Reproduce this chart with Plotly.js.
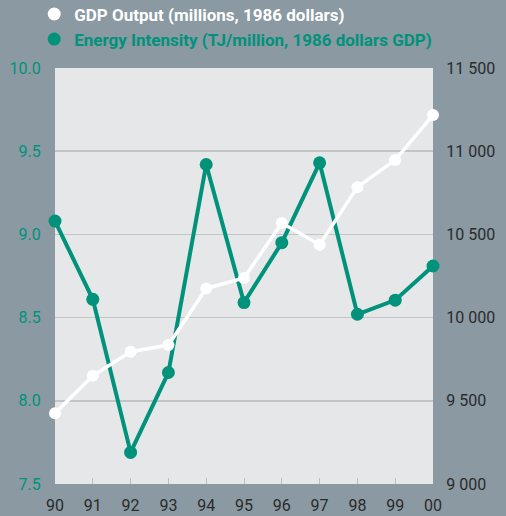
<!DOCTYPE html>
<html>
<head>
<meta charset="utf-8">
<script src="https://cdn.plot.ly/plotly-3.0.1.min.js"></script>
<style>html,body{margin:0;padding:0;background:#8a99a2;}#chart{width:506px;height:516px;}</style>
</head>
<body>
<div id="chart"></div>
<script>
var years = ['90','91','92','93','94','95','96','97','98','99','00'];
var gdpOutput = [9425, 9650, 9795, 9835, 10175, 10238, 10568, 10438, 10784, 10947, 11217];
var energyIntensity = [9.08, 8.61, 7.69, 8.17, 9.42, 8.59, 8.95, 9.43, 8.52, 8.605, 8.81];
var gdpName = 'GDP Output (millions, 1986 dollars)';
var energyName = 'Energy Intensity (TJ/million, 1986 dollars GDP)';

var GREEN = '#00927b';
var WHITE = '#ffffff';
var FONT = 'Roboto, "Liberation Sans", sans-serif';

var traces = [
  {x: years, y: energyIntensity, type: 'scatter', mode: 'lines+markers', yaxis: 'y',
   line: {color: GREEN, width: 4}, marker: {color: GREEN, size: 13}, showlegend: false, cliponaxis: false},
  {x: years, y: gdpOutput, type: 'scatter', mode: 'lines+markers', yaxis: 'y2',
   line: {color: WHITE, width: 3.5}, marker: {color: WHITE, size: 12}, showlegend: false, cliponaxis: false},
  {x: [years[0]], y: [null], type: 'scatter', mode: 'markers', marker: {color: WHITE, size: 13},
   name: '<b><span style="color:#ffffff">' + gdpName + '</span></b>'},
  {x: [years[0]], y: [null], type: 'scatter', mode: 'markers', marker: {color: GREEN, size: 13},
   name: '<b><span style="color:' + GREEN + '">' + energyName + '</span></b>'}
];

var layout = {
  width: 506, height: 516,
  paper_bgcolor: '#8a99a2',
  plot_bgcolor: '#e6e7e8',
  margin: {l: 55, r: 73, t: 68, b: 32, pad: 0, autoexpand: false},
  separators: '. ',
  font: {family: FONT, size: 15, color: '#2b2b2b'},
  showlegend: true,
  legend: {
    x: -0.055, y: 1.172, xanchor: 'left', yanchor: 'top',
    bgcolor: 'rgba(0,0,0,0)', font: {family: FONT, size: 17, color: WHITE},
    itemwidth: 30, tracegroupgap: 0, traceorder: 'normal'
  },
  xaxis: {
    type: 'category', categoryorder: 'array', categoryarray: years,
    range: [0, 10], autorange: false, showgrid: false, zeroline: false, showline: false,
    ticks: 'inside', ticklen: 6, tickwidth: 1, tickcolor: '#bdbdbd', ticklabelstandoff: 10,
    tickfont: {family: FONT, size: 16, color: '#2b2b2b'}
  },
  yaxis: {
    range: [7.5, 10.0], autorange: false, dtick: 0.5, tick0: 7.5, tickformat: '.1f',
    showgrid: true, gridcolor: '#c3c4c6', gridwidth: 1.5, zeroline: false, showline: false,
    ticks: 'outside', ticklen: 10, tickcolor: 'rgba(0,0,0,0)',
    tickfont: {family: FONT, size: 16, color: GREEN}
  },
  yaxis2: {
    overlaying: 'y', side: 'right', range: [9000, 11500], autorange: false, dtick: 500, tick0: 9000,
    tickformat: ',d',
    showgrid: false, zeroline: false, showline: false,
    ticks: 'outside', ticklen: 9, tickcolor: 'rgba(0,0,0,0)',
    tickfont: {family: FONT, size: 16, color: '#2b2b2b'}
  }
};

Plotly.newPlot('chart', traces, layout, {displayModeBar: false, staticPlot: true});
</script>
</body>
</html>
